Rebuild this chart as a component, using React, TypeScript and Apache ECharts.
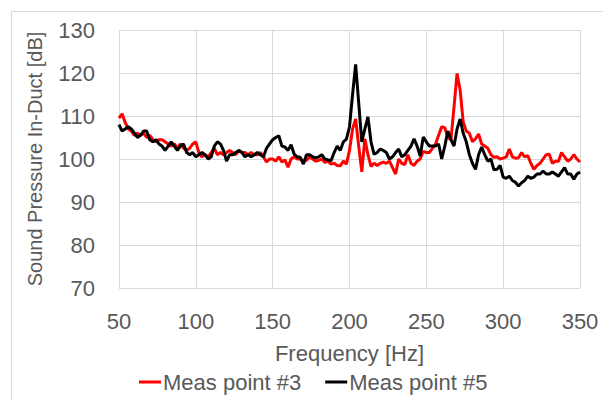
import React, { useEffect, useRef } from "react";
import * as echarts from "echarts";

const frequencies: number[] = Array.from({ length: 151 }, (_, i) => 50 + i * 2);

const measPoint3: number[] = [
  109.5, 110.5, 108.5, 107, 106.5, 105.5, 106, 105.5, 106, 105,
  105.5, 104.5, 104, 104.5, 104.5, 104, 103.5, 103, 103.5, 102.5,
  103.5, 102.5, 102, 102.5, 103.5, 104, 101.5, 100.5, 101, 100.5,
  101.5, 102.5, 101, 101.5, 101, 101.5, 102, 101.5, 101, 102,
  101.5, 101.5, 101, 101.5, 101, 101, 101.5, 100.5, 99.3, 100,
  100, 99.5, 100.5, 99.3, 99.8, 98.1, 100, 100.5, 100, 100,
  99.5, 99.7, 100.5, 100, 99.5, 99.7, 100, 99.2, 99.5, 98.8,
  99, 98.5, 98.4, 99.5, 98.8, 102, 107, 109.3, 103, 97,
  104.7, 101, 98.3, 99, 98.5, 99, 99.3, 99, 99.5, 98,
  96.5, 100, 99, 98.7, 101, 99, 98.5, 99.5, 100, 101.8,
  101.5, 101.5, 102.5, 103.5, 105.5, 107.5, 107.3, 105, 104.5, 112,
  119.9, 116, 108.6, 106.5, 106, 104, 104.7, 105.8, 103.5, 103,
  102.5, 101, 100.4, 100.5, 100, 100.2, 100.5, 102.3, 100.5, 100.2,
  100.3, 101.5, 100.5, 100.8, 99, 97.6, 98.5, 99, 100, 101,
  101.1, 99, 99.5, 99.5, 101.5, 100.5, 99.5, 100, 101, 100,
  99.3,
];

const measPoint5: number[] = [
  108, 106.5, 107, 107.5, 107, 106, 105, 105.5, 106.5, 106.5,
  104.5, 104, 104.5, 103.5, 103, 102, 103, 104, 103, 102,
  103, 103.5, 101.5, 101, 101.5, 100.5, 101, 101.5, 101, 100,
  100.5, 103, 104, 103.5, 102, 99.5, 101, 101, 101.5, 102,
  101.5, 100.5, 101, 100.5, 101, 101.5, 101, 100.5, 102.5, 103.5,
  104.5, 105, 105.4, 103, 102.8, 102, 103.3, 101.1, 100.5, 100.4,
  98.8, 101, 101, 100.5, 100.3, 100.5, 101, 100, 99.8, 99.6,
  101.5, 103, 102, 104, 104.6, 107.5, 115, 122, 113, 104,
  107, 109.8, 104, 101.1, 101.5, 102.3, 102, 101.5, 100, 100.5,
  101.5, 102.3, 100.5, 101, 102, 103, 104.7, 103, 100.7, 105.1,
  104, 103, 103, 103, 103.5, 100, 103, 106.5, 104.5, 103,
  107, 109.3, 106, 104, 101, 99, 97.6, 101, 102.8, 101,
  99.5, 100, 97.5, 97.6, 98.5, 95.8, 95.5, 96, 95, 94.6,
  93.7, 94.5, 95, 96, 95.5, 95.8, 96.5, 96.5, 97.2, 96.5,
  96.5, 97, 96.5, 96, 97, 98, 96.5, 96.5, 95.3, 96.5,
  97,
];

const seriesNames = ["Meas point #3", "Meas point #5"];
const xTitle = "Frequency [Hz]";
const yTitle = "Sound Pressure In-Duct [dB]";

export default function App() {
  const ref = useRef<HTMLDivElement>(null);
  useEffect(() => {
    if (!ref.current) return;
    const chart = echarts.init(ref.current, undefined, { renderer: "svg" });
    const font = "Liberation Sans";
    const textColor = "#595959";
    chart.setOption({
      animation: false,
      backgroundColor: "#ffffff",
      textStyle: { fontFamily: font },
      graphic: [
        {
          type: "rect",
          shape: { x: 11.5, y: 11.5, width: 700, height: 500 },
          style: { fill: "none", stroke: "#d9d9d9", lineWidth: 1 },
          silent: true,
        },
      ],
      grid: { left: 119, right: 23, top: 30, bottom: 112 },
      legend: {
        data: seriesNames,
        left: 134,
        top: 366,
        itemWidth: 22,
        itemHeight: 3,
        itemGap: 24,
        icon: "rect",
        textStyle: { fontFamily: font, fontSize: 22, color: textColor, padding: [0, 0, 0, -3] },
      },
      xAxis: {
        type: "value",
        min: 50,
        max: 350,
        interval: 50,
        name: xTitle,
        nameLocation: "middle",
        nameGap: 54,
        nameTextStyle: { fontFamily: font, fontSize: 22, color: textColor },
        axisLine: { show: false },
        axisTick: { show: false },
        axisLabel: { fontFamily: font, fontSize: 22, color: textColor, margin: 22 },
        splitLine: { show: true, lineStyle: { color: "#d9d9d9", width: 1 } },
      },
      yAxis: {
        type: "value",
        min: 70,
        max: 130,
        interval: 10,
        name: yTitle,
        nameLocation: "middle",
        nameGap: 74,
        nameTextStyle: { fontFamily: font, fontSize: 20, color: textColor },
        axisLine: { show: false },
        axisTick: { show: false },
        axisLabel: { fontFamily: font, fontSize: 22, color: textColor, margin: 24 },
        splitLine: { show: true, lineStyle: { color: "#d9d9d9", width: 1 } },
      },
      series: [
        {
          name: seriesNames[0],
          type: "line",
          data: frequencies.map((f, i) => [f, measPoint3[i]]),
          showSymbol: false,
          symbol: "none",
          lineStyle: { color: "#ff0000", width: 3 },
          itemStyle: { color: "#ff0000" },
          z: 2,
        },
        {
          name: seriesNames[1],
          type: "line",
          data: frequencies.map((f, i) => [f, measPoint5[i]]),
          showSymbol: false,
          symbol: "none",
          lineStyle: { color: "#000000", width: 3 },
          itemStyle: { color: "#000000" },
          z: 3,
        },
      ],
    });
    return () => chart.dispose();
  }, []);
  return (
    <div
      ref={ref}
      style={{ position: "fixed", left: 0, top: 0, width: 603, height: 400 }}
    />
  );
}
